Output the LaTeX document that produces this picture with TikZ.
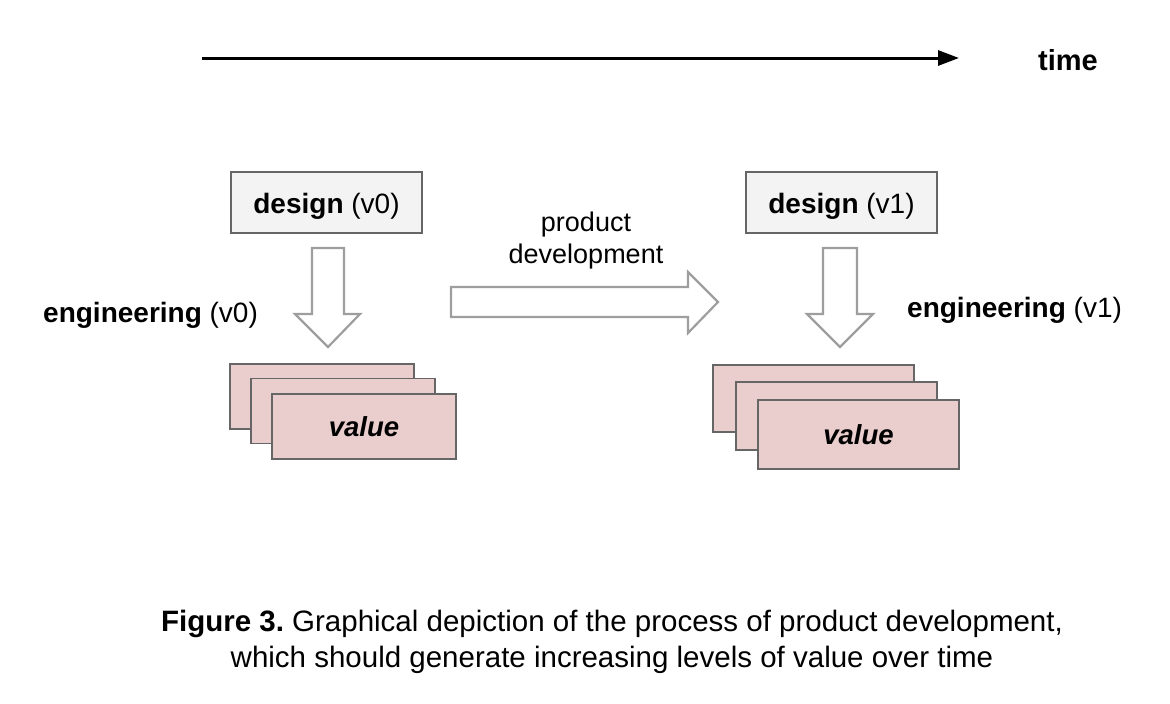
\documentclass[tikz,border=0pt]{standalone}
\usepackage{fontspec}
\setmainfont{Liberation Sans}
\usetikzlibrary{arrows.meta}
\frenchspacing
\definecolor{boxgray}{HTML}{F3F3F3}
\definecolor{boxedge}{HTML}{666666}
\definecolor{arredge}{HTML}{9E9E9E}
\definecolor{valfill}{RGB}{234,205,205}
\tikzset{
  designbox/.style={draw=boxedge, fill=boxgray, line width=1.5pt, minimum width=191pt, minimum height=61pt, inner sep=0pt, text height=27pt, text depth=6pt, font=\fontsize{28}{34}\selectfont},
  valbox/.style={draw=boxedge, fill=valfill, line width=1.5pt, inner sep=0pt},
  blockarrow/.style={draw=arredge, fill=white, line width=2.2pt, line join=miter},
  lbl/.style={inner sep=0pt, font=\fontsize{28}{34}\selectfont},
}
\begin{document}
\begin{tikzpicture}[x=1pt,y=-1pt]
\useasboundingbox (0,0) rectangle (1170,704);
% timeline
\coordinate (t0) at (202,58);
\coordinate (t1) at (959,58);
\draw[line width=3pt, -{Triangle[length=21pt,width=15pt]}] (t0) -- (t1);
\node[lbl, font=\fontsize{29}{34}\selectfont\bfseries] (time) at (1068,60) {time};

% left column
\node[designbox] (d0) at (326.5,202.5) {\textbf{design} (v0)};
\draw[blockarrow] (312,248) -- (344,248) -- (344,314) -- (360,314) -- (328,347) -- (295,314) -- (312,314) -- cycle;
\node[lbl, anchor=west] (e0) at (43,315) {\textbf{engineering} (v0)};
\node[valbox, minimum width=184pt, minimum height=65pt] (v0a) at (322,396.5) {};
\node[valbox, minimum width=184pt, minimum height=65pt] (v0b) at (343,411) {};
\node[valbox, minimum width=184pt, minimum height=65pt, font=\fontsize{27.5}{34}\selectfont\bfseries\itshape] (v0c) at (364,426.5) {value};

% product development arrow
\draw[blockarrow] (451,287) -- (688,287) -- (688,272) -- (718,302) -- (688,333) -- (688,317) -- (451,317) -- cycle;
\node[lbl, font=\fontsize{27}{32}\selectfont, align=center] (pd) at (586,241) {product\\development};

% right column
\node[designbox] (d1) at (841.5,202.5) {\textbf{design} (v1)};
\draw[blockarrow] (823,248) -- (857,248) -- (857,314) -- (873,314) -- (840,347) -- (807,314) -- (823,314) -- cycle;
\node[lbl, anchor=west] (e1) at (907,310) {\textbf{engineering} (v1)};
\node[valbox, minimum width=201pt, minimum height=67pt] (v1a) at (813.5,398.5) {};
\node[valbox, minimum width=201pt, minimum height=68pt] (v1b) at (836.5,416) {};
\node[valbox, minimum width=201pt, minimum height=69pt, font=\fontsize{27.5}{34}\selectfont\bfseries\itshape] (v1c) at (858.5,434.5) {value};

% caption
\node[lbl, font=\fontsize{29.5}{36}\selectfont, align=center] (cap) at (612,642) {\textbf{Figure 3.} Graphical depiction of the process of product development,\\which should generate increasing levels of value over time};
\end{tikzpicture}
\end{document}
